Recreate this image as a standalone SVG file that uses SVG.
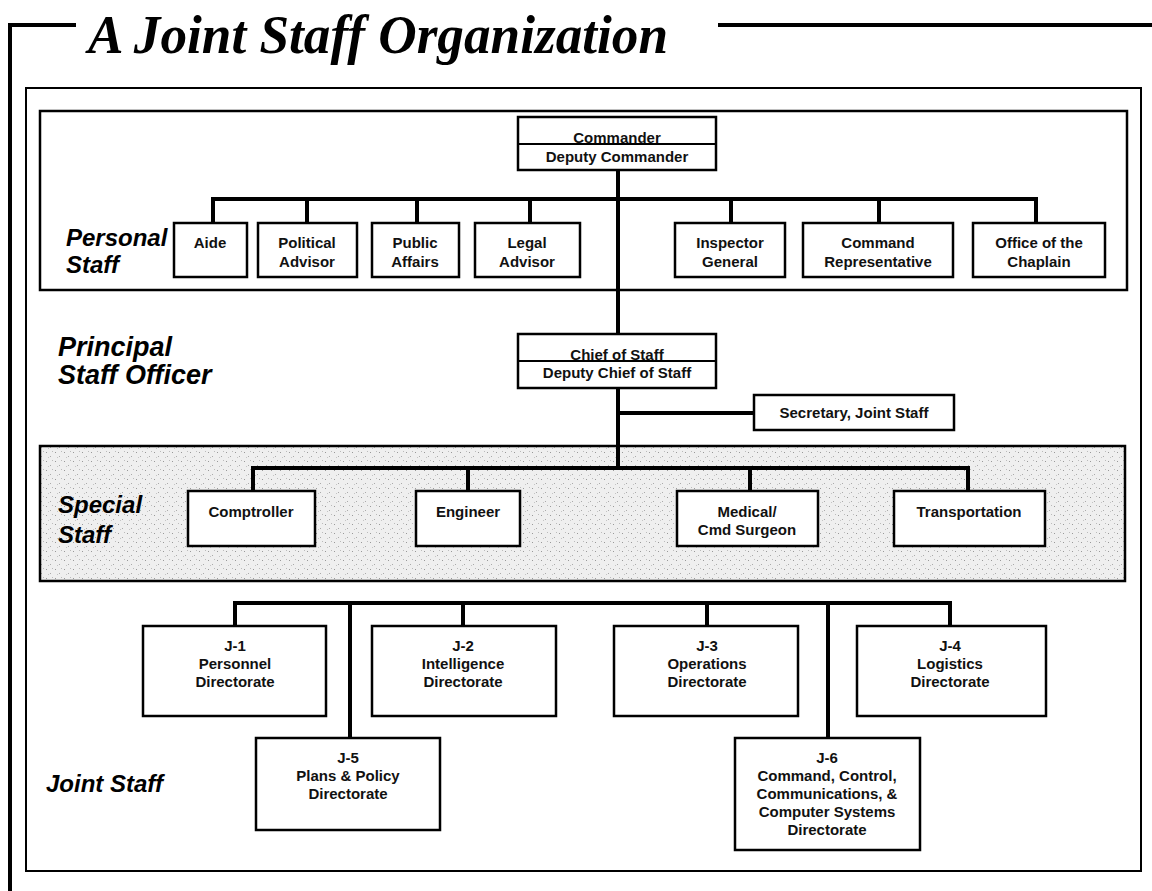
<svg xmlns="http://www.w3.org/2000/svg" width="1152" height="891" viewBox="0 0 1152 891">
<defs>
<style>
.thick{stroke:#000;stroke-width:4;fill:none}
.frame{stroke:#000;stroke-width:2;fill:none}
.band{stroke:#000;stroke-width:2.5}
.box{fill:#fff;stroke:#000;stroke-width:2.5}
.conn{stroke:#000;stroke-width:4;fill:none;stroke-linecap:square}
.t{font-family:"Liberation Sans",Arial,sans-serif;font-weight:bold;font-size:15px;text-anchor:middle;fill:#111}
.lbl{font-family:"Liberation Sans",Arial,sans-serif;font-weight:bold;font-style:italic;font-size:24px;fill:#000}
.lbl2{font-family:"Liberation Sans",Arial,sans-serif;font-weight:bold;font-style:italic;font-size:27px;fill:#000}
.title{font-family:"Liberation Serif","Times New Roman",serif;font-weight:bold;font-style:italic;font-size:54px;fill:#000}
</style>
<pattern id="stip" width="9" height="9" patternUnits="userSpaceOnUse">
<rect width="9" height="9" fill="#efefef"/>
<rect x="1" y="2" width="1" height="1" fill="#999"/>
<rect x="5" y="6" width="1" height="1" fill="#aaa"/>
<rect x="7" y="1" width="1" height="1" fill="#bbb"/>
<rect x="3" y="7" width="1" height="1" fill="#c4c4c4"/>
</pattern>
</defs>
<rect width="1152" height="891" fill="#fff"/>

<g id="outer-frame">
<path class="thick" d="M76,25 H10 V891"/>
<path class="thick" d="M718,25 H1152"/>
<text class="title" x="88" y="53" textLength="580" lengthAdjust="spacingAndGlyphs">A Joint Staff Organization</text>
<rect class="frame" x="26" y="88" width="1115" height="783"/>
</g>

<g id="bands">
<rect class="band" x="40" y="111" width="1087" height="179" fill="#fff"/>
<rect class="band" x="40" y="446" width="1085" height="135" fill="url(#stip)"/>
</g>

<g id="labels">
<text class="lbl" x="66" y="246">Personal</text>
<text class="lbl" x="66" y="273">Staff</text>
<text class="lbl2" x="58" y="356">Principal</text>
<text class="lbl2" x="58" y="384">Staff Officer</text>
<text class="lbl" x="58" y="513">Special</text>
<text class="lbl" x="58" y="543">Staff</text>
<text class="lbl" x="46" y="792">Joint Staff</text>
</g>

<g id="connectors">
<path class="conn" d="M618,170 V333 M618,388 V468"/>
<path class="conn" d="M213,223 V199 H1036 V223"/>
<path class="conn" d="M307,199 V223 M417,199 V223 M530,199 V223 M731,199 V223 M879,199 V223"/>
<path class="conn" d="M618,413 H754"/>
<path class="conn" d="M253,491 V468 H968 V491"/>
<path class="conn" d="M468,468 V491 M750,468 V491"/>
<path class="conn" d="M235,626 V603 H950 V626"/>
<path class="conn" d="M463,603 V626 M707,603 V626 M350,603 V738 M828,603 V738"/>
</g>

<g id="commander">
<rect class="box" x="518" y="117" width="198" height="53"/>
<line x1="518" y1="144" x2="716" y2="144" stroke="#000" stroke-width="2"/>
<text class="t" x="617" y="143">Commander</text>
<text class="t" x="617" y="162">Deputy Commander</text>
</g>

<g id="aide"><rect class="box" x="174" y="223" width="73" height="54"/><text class="t" x="210" y="248">Aide</text></g>
<g id="political-advisor"><rect class="box" x="258" y="223" width="99" height="54"/><text class="t" x="307" y="248">Political</text><text class="t" x="307" y="267">Advisor</text></g>
<g id="public-affairs"><rect class="box" x="372" y="223" width="87" height="54"/><text class="t" x="415" y="248">Public</text><text class="t" x="415" y="267">Affairs</text></g>
<g id="legal-advisor"><rect class="box" x="475" y="223" width="105" height="54"/><text class="t" x="527" y="248">Legal</text><text class="t" x="527" y="267">Advisor</text></g>
<g id="inspector-general"><rect class="box" x="675" y="223" width="110" height="54"/><text class="t" x="730" y="248">Inspector</text><text class="t" x="730" y="267">General</text></g>
<g id="command-representative"><rect class="box" x="803" y="223" width="150" height="54"/><text class="t" x="878" y="248">Command</text><text class="t" x="878" y="267">Representative</text></g>
<g id="chaplain"><rect class="box" x="973" y="223" width="132" height="54"/><text class="t" x="1039" y="248">Office of the</text><text class="t" x="1039" y="267">Chaplain</text></g>

<g id="chief-of-staff">
<rect class="box" x="518" y="334" width="198" height="54"/>
<line x1="518" y1="361" x2="716" y2="361" stroke="#000" stroke-width="2"/>
<text class="t" x="617" y="360">Chief of Staff</text>
<text class="t" x="617" y="378">Deputy Chief of Staff</text>
</g>

<g id="secretary"><rect class="box" x="754" y="395" width="200" height="35"/><text class="t" x="854" y="418">Secretary, Joint Staff</text></g>

<g id="comptroller"><rect class="box" x="188" y="491" width="127" height="55"/><text class="t" x="251" y="517">Comptroller</text></g>
<g id="engineer"><rect class="box" x="416" y="491" width="104" height="55"/><text class="t" x="468" y="517">Engineer</text></g>
<g id="medical"><rect class="box" x="677" y="491" width="141" height="55"/><text class="t" x="747" y="517">Medical/</text><text class="t" x="747" y="535">Cmd Surgeon</text></g>
<g id="transportation"><rect class="box" x="894" y="491" width="151" height="55"/><text class="t" x="969" y="517">Transportation</text></g>

<g id="j1"><rect class="box" x="143" y="626" width="183" height="90"/><text class="t" x="235" y="651">J-1</text><text class="t" x="235" y="669">Personnel</text><text class="t" x="235" y="687">Directorate</text></g>
<g id="j2"><rect class="box" x="372" y="626" width="184" height="90"/><text class="t" x="463" y="651">J-2</text><text class="t" x="463" y="669">Intelligence</text><text class="t" x="463" y="687">Directorate</text></g>
<g id="j3"><rect class="box" x="614" y="626" width="184" height="90"/><text class="t" x="707" y="651">J-3</text><text class="t" x="707" y="669">Operations</text><text class="t" x="707" y="687">Directorate</text></g>
<g id="j4"><rect class="box" x="857" y="626" width="189" height="90"/><text class="t" x="950" y="651">J-4</text><text class="t" x="950" y="669">Logistics</text><text class="t" x="950" y="687">Directorate</text></g>
<g id="j5"><rect class="box" x="256" y="738" width="184" height="92"/><text class="t" x="348" y="763">J-5</text><text class="t" x="348" y="781">Plans &amp; Policy</text><text class="t" x="348" y="799">Directorate</text></g>
<g id="j6"><rect class="box" x="735" y="738" width="185" height="112"/><text class="t" x="827" y="763">J-6</text><text class="t" x="827" y="781">Command, Control,</text><text class="t" x="827" y="799">Communications, &amp;</text><text class="t" x="827" y="817">Computer Systems</text><text class="t" x="827" y="835">Directorate</text></g>
</svg>
